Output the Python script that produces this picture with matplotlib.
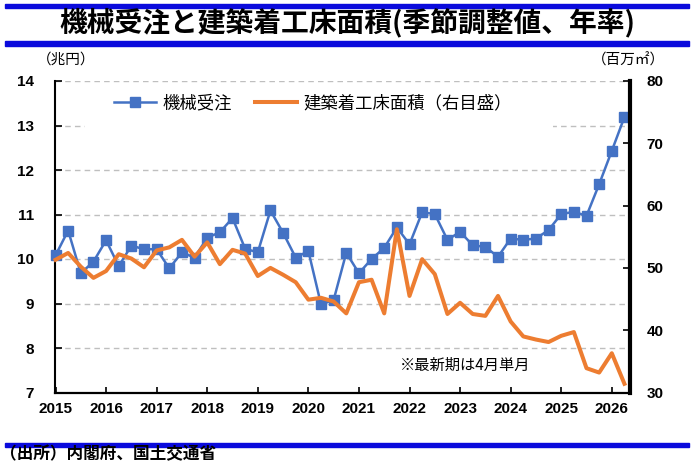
import matplotlib
matplotlib.use("Agg")
import matplotlib.pyplot as plt
from matplotlib import font_manager
from matplotlib.patches import Rectangle
import pandas as pd

plt.rcParams['font.family'] = ['Noto Sans CJK JP', 'DejaVu Sans']

# 四半期 (2015Q1 - 2026Q2、最新期は4月単月)
quarters = pd.period_range('2015Q1', '2026Q2', freq='Q')

# 機械受注 (兆円)
kikai = [10.08, 10.64, 9.68, 9.94, 10.42, 9.84, 10.30, 10.22,
         10.22, 9.79, 10.15, 10.03, 10.48, 10.60, 10.92, 10.23,
         10.15, 11.09, 10.59, 10.03, 10.18, 8.98, 9.08, 10.14,
         9.68, 10.00, 10.25, 10.71, 10.33, 11.05, 11.01, 10.43,
         10.61, 10.31, 10.27, 10.05, 10.46, 10.43, 10.46, 10.65,
         11.01, 11.06, 10.97, 11.68, 12.43, 13.19]

# 建築着工床面積 (百万m2)
kenchiku = [51.3, 52.4, 50.2, 48.4, 49.5, 52.2, 51.5, 50.1,
            52.8, 53.3, 54.5, 51.8, 54.1, 50.6, 52.9, 52.3,
            48.7, 50.0, 48.9, 47.7, 44.9, 45.2, 44.6, 42.7,
            47.7, 48.1, 42.7, 56.2, 45.5, 51.4, 49.0, 42.6,
            44.4, 42.6, 42.3, 45.5, 41.4, 39.0, 38.5, 38.1,
            39.1, 39.7, 33.9, 33.2, 36.3, 31.4]

years = list(range(2015, 2027))
left_ticks = [7, 8, 9, 10, 11, 12, 13, 14]
right_ticks = [30, 40, 50, 60, 70, 80]

x = [q.year + (q.quarter - 1) / 4 for q in quarters]

names = {f.name for f in font_manager.fontManager.ttflist}
num_family = 'Liberation Sans Narrow' if 'Liberation Sans Narrow' in names else 'Liberation Sans'
num_size = 13.5 if num_family == 'Liberation Sans Narrow' else 11
num_font = font_manager.FontProperties(family=num_family, weight='bold', size=num_size)

BLUE = '#4472C4'
ORANGE = '#ED7D31'
BAR = '#0A0ADC'

fig = plt.figure(figsize=(6.94, 4.63), dpi=100)
ax = fig.add_axes([55 / 694, 1 - 392.5 / 463, 575 / 694, 311.5 / 463])
ax2 = ax.twinx()

l1, = ax.plot(x, kikai, color=BLUE, lw=1.8, marker='s', markersize=6.5,
              label='機械受注', clip_on=False, zorder=3)
l2, = ax2.plot(x, kenchiku, color=ORANGE, lw=2.9, solid_joinstyle='round',
               label='建築着工床面積（右目盛）', clip_on=False, zorder=3)

ax.set_xlim(2014.99, 2026.36)
ax.set_ylim(7, 14)
ax2.set_ylim(30, 80)

ax.set_xticks(years)
ax.set_xticklabels([str(y) for y in years])
ax.set_yticks(left_ticks)
ax.set_yticklabels([str(v) for v in left_ticks])
ax2.set_yticks(right_ticks)
ax2.set_yticklabels([str(v) for v in right_ticks])
for lab in ax.get_xticklabels() + ax.get_yticklabels() + ax2.get_yticklabels():
    lab.set_fontproperties(num_font)

ax.tick_params(axis='y', direction='in', length=5, width=1.2, pad=15)
ax.tick_params(axis='x', direction='in', length=4, width=1.2, pad=7)
ax2.tick_params(axis='y', direction='in', length=5, width=1.2, pad=12)

ax.set_axisbelow(True)
ax.yaxis.grid(True, color='#BFBFBF', linestyle=(0, (4, 3)), lw=1)

for s in ['top', 'right']:
    ax.spines[s].set_visible(False)
for s in ['top', 'left', 'bottom']:
    ax2.spines[s].set_visible(False)
ax.spines['left'].set_linewidth(1.5)
ax.spines['bottom'].set_linewidth(1.6)
ax2.spines['right'].set_linewidth(3)

# 凡例 (白地で目盛線を隠す)
ax2.add_patch(Rectangle((0.052, 0.815), 0.814, 0.15, transform=ax2.transAxes,
                        facecolor='white', edgecolor='none', zorder=1))
ax2.legend(handles=[l1, l2], loc='center left', bbox_to_anchor=(0.103, 0.929),
           ncol=2, frameon=False, fontsize=12.5, handlelength=2.4,
           handletextpad=0.4, columnspacing=1.3, borderpad=0, borderaxespad=0)

ax.text(0.6, 0.088, '※最新期は4月単月', transform=ax.transAxes,
        fontsize=11, ha='left', va='center')

# タイトル・単位・出所
fig.add_artist(Rectangle((0.007, 1 - 8 / 463), 0.986, 4 / 463,
                         transform=fig.transFigure, color=BAR))
fig.add_artist(Rectangle((0.007, 1 - 46 / 463), 0.986, 5 / 463,
                         transform=fig.transFigure, color=BAR))
fig.add_artist(Rectangle((0.007, 1 - 447 / 463), 0.986, 4 / 463,
                         transform=fig.transFigure, color=BAR))
fig.text(0.5, 1 - 23 / 463, '機械受注と建築着工床面積(季節調整値、年率)',
         ha='center', va='center', fontsize=20, fontweight='bold')
fig.text(66 / 694, 1 - 60 / 463, '（兆円）', ha='center', va='center', fontsize=10.5)
fig.text(628 / 694, 1 - 60 / 463, '（百万㎡）', ha='center', va='center', fontsize=10.5)
fig.text(0 / 694, 1 - 454 / 463, '（出所）内閣府、国土交通省', ha='left', va='center',
         fontsize=12, fontweight='bold')

fig.savefig('out.png', dpi=100)
